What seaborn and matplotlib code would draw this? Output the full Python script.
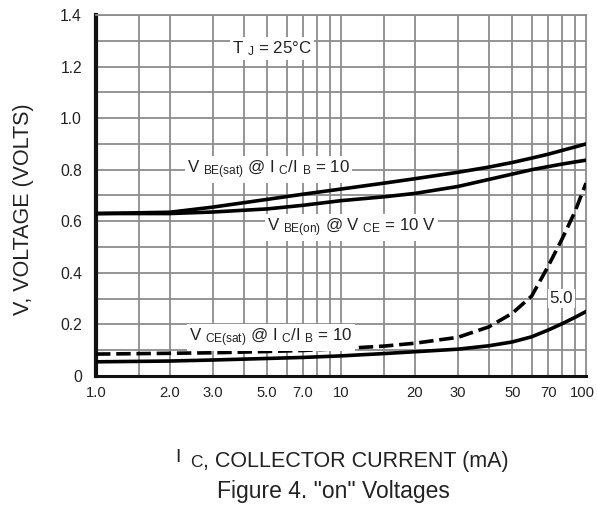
import numpy as np
import pandas as pd
import matplotlib
matplotlib.use("Agg")
import matplotlib.pyplot as plt
import matplotlib.transforms as mtransforms
import seaborn as sns

# Data (IC in mA, voltage in V)
ic = [1, 2, 3, 5, 7, 10, 15, 20, 30, 40, 50, 60, 70, 80, 90, 100]
vbe_sat = [0.63, 0.635, 0.655, 0.685, 0.705, 0.725, 0.748, 0.765, 0.79, 0.81, 0.828, 0.845, 0.86, 0.875, 0.888, 0.90]
vbe_on = [0.63, 0.63, 0.636, 0.648, 0.662, 0.68, 0.695, 0.708, 0.735, 0.762, 0.783, 0.80, 0.812, 0.822, 0.83, 0.837]
vce_sat_10 = [0.055, 0.058, 0.062, 0.068, 0.072, 0.078, 0.087, 0.094, 0.104, 0.117, 0.132, 0.152, 0.178, 0.203, 0.227, 0.25]
vce_sat_5 = [0.085, 0.088, 0.09, 0.095, 0.099, 0.106, 0.116, 0.127, 0.15, 0.19, 0.243, 0.31, 0.425, 0.533, 0.636, 0.748]

xticks = [1, 2, 3, 5, 7, 10, 20, 30, 50, 70, 100]
xtick_labels = ["1.0", "2.0", "3.0", "5.0", "7.0", "10", "20", "30", "50", "70", "100"]
xgrid = [1.5, 2, 3, 4, 5, 6, 7, 8, 9, 10, 15, 20, 30, 40, 50, 60, 70, 80, 90]
yticks = [0, 0.2, 0.4, 0.6, 0.8, 1.0, 1.2, 1.4]
ytick_labels = ["0", "0.2", "0.4", "0.6", "0.8", "1.0", "1.2", "1.4"]

df = pd.DataFrame({
    "ic": ic * 4,
    "v": vbe_sat + vbe_on + vce_sat_10 + vce_sat_5,
    "curve": ["vbe_sat"] * len(ic) + ["vbe_on"] * len(ic) + ["vce10"] * len(ic) + ["vce5"] * len(ic),
})

sns.set_theme(style="white")
plt.rcParams["font.family"] = ["Liberation Sans", "DejaVu Sans"]
plt.rcParams["mathtext.default"] = "regular"

fig = plt.figure(figsize=(5.97, 5.07), dpi=100)
ax = fig.add_axes([0.1608, 0.2584, 0.8208, 0.712])

grid_col = "#8c8c8c"
for g in xgrid:
    ax.axvline(g, color=grid_col, lw=1.3, zorder=0)
for g in np.arange(0.1, 1.45, 0.1):
    ax.axhline(g, color=grid_col, lw=1.3, zorder=0)

palette = {"vbe_sat": "black", "vbe_on": "black", "vce10": "black", "vce5": "black"}
sns.lineplot(data=df, x="ic", y="v", hue="curve", style="curve", palette=palette,
             dashes={"vbe_sat": "", "vbe_on": "", "vce10": "", "vce5": (4, 1.6)},
             lw=2.6, legend=False, ax=ax, zorder=3)

ax.set_xscale("log")
ax.set_xlim(1, 100)
ax.set_ylim(0, 1.4)
ax.set_xticks(xticks)
ax.set_xticklabels(xtick_labels)
ax.xaxis.set_minor_locator(matplotlib.ticker.NullLocator())
ax.set_yticks(yticks)
ax.set_yticklabels(ytick_labels)
ax.tick_params(axis="both", length=0, colors="#222222")
ax.tick_params(axis="y", pad=10, labelsize=11.3)
ax.tick_params(axis="x", pad=7, labelsize=10.6)
ax.set_xlabel("")
ax.set_ylabel("")

# nudge the "100" label left so it stays inside the figure
last = ax.get_xticklabels()[-1]
last.set_transform(last.get_transform() + mtransforms.ScaledTranslation(-0.035, 0, fig.dpi_scale_trans))

for s in ["top", "right"]:
    ax.spines[s].set_color(grid_col)
    ax.spines[s].set_linewidth(1.3)
ax.spines["left"].set_color("#111111")
ax.spines["left"].set_linewidth(3)
ax.spines["bottom"].set_color("#111111")
ax.spines["bottom"].set_linewidth(2.2)

box = dict(facecolor="white", edgecolor="none", pad=1.5)
fs = 12.2
ax.text(3.6, 1.27, "T $_{J}$ = 25°C", fontsize=fs, color="#222222", va="center", ha="left", bbox=box, zorder=4)
ax.text(2.35, 0.80, "V $_{BE(sat)}$ @ I $_{C}$/I $_{B}$ = 10", fontsize=fs, color="#222222",
        va="center", ha="left", bbox=box, zorder=4)
ax.text(5.0, 0.575, "V $_{BE(on)}$ @ V $_{CE}$ = 10 V", fontsize=fs, color="#222222",
        va="center", ha="left", bbox=box, zorder=4)
ax.text(2.4, 0.15, "V $_{CE(sat)}$ @ I $_{C}$/I $_{B}$ = 10", fontsize=fs, color="#222222",
        va="center", ha="left", bbox=box, zorder=4)
ax.text(71, 0.30, "5.0", fontsize=fs, color="#222222", va="center", ha="left", bbox=box, zorder=4)

fig.text(0.0402, 0.5878, "V, VOLTAGE (VOLTS)", fontsize=15.5, color="#222222",
         rotation=90, ha="center", va="center")
fig.text(175 / 597, 0.0888, "I", fontsize=14, color="#222222", ha="left", va="baseline")
fig.text(190 / 597, 0.0789, "C", fontsize=12.5, color="#222222", ha="left", va="baseline")
fig.text(203 / 597, 0.0789, ", COLLECTOR CURRENT (mA)", fontsize=15.5, color="#222222", ha="left", va="baseline")
fig.text(0.5586, 0.0178, 'Figure 4. "on" Voltages', fontsize=16.5, color="#222222", ha="center", va="baseline")

fig.savefig("out.png", dpi=100)
